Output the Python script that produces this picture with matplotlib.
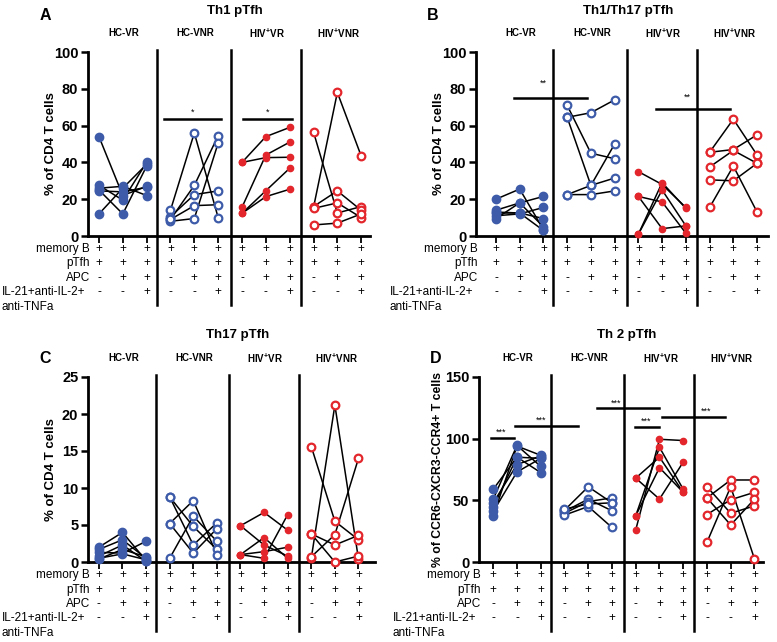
import matplotlib
matplotlib.use('Agg')
import matplotlib.pyplot as plt
import matplotlib.transforms as mtransforms

plt.rcParams['font.family'] = ['Liberation Sans', 'DejaVu Sans']
plt.rcParams['mathtext.fontset'] = 'custom'
plt.rcParams['mathtext.rm'] = 'Liberation Sans:bold'
plt.rcParams['mathtext.default'] = 'rm'

groups = ['HC-VR', 'HC-VNR', 'HIV$^{+}$VR', 'HIV$^{+}$VNR']
rows = ['memory B', 'pTfh', 'APC']
memory_b = ['+', '+', '+']
ptfh = ['+', '+', '+']
apc = ['-', '+', '+']
il21 = ['-', '-', '+']

# one triple per donor: (memB+pTfh, +APC, +APC+IL-21/anti-IL-2/anti-TNFa)
th1_hc_vr = [[54, 22, 27], [27.5, 19.5, 40], [26, 27, 22], [25, 12, 38], [24.5, 24, 26.5], [12, 26, 39]]
th1_hc_vnr = [[14, 56, 10], [9, 27.5, 54.5], [10.5, 22.5, 24.5], [8, 9.5, 50.5], [9, 16.5, 17]]
th1_hiv_vr = [[40, 54, 59], [40, 42.6, 42.8], [15.6, 44, 51], [12.3, 24.6, 36.8], [12.3, 21.4, 25.4]]
th1_hiv_vnr = [[56.5, 12.5, 16], [15.5, 78, 43.5], [16, 24.5, 14], [15, 18, 10], [6, 7, 12]]

th117_hc_vr = [[20, 25.5, 3.5], [14, 18, 21.5], [13, 12.5, 9.5], [11, 12, 15.5], [9.5, 18, 5], [12.5, 12.5, 3]]
th117_hc_vnr = [[71, 45, 42], [64.5, 67, 74], [64.5, 27.5, 50], [22.5, 27.5, 31.5], [22.5, 22.5, 24.5]]
th117_hiv_vr = [[35, 28, 15.5], [21.5, 18.5, 1.5], [21.5, 4, 5.5], [1, 29, 15], [1, 25, 5.5]]
th117_hiv_vnr = [[45.5, 63.5, 44], [45.5, 47, 55], [37.5, 46.5, 39.5], [30.5, 30, 39.5], [15.5, 38, 13]]

th17_hc_vr = [[2, 4, 0.2], [1.7, 3, 0.5], [1.3, 1.2, 2.8], [0.8, 2.3, 0.1], [0.4, 1.7, 0.7], [0.5, 1.1, 0.3]]
th17_hc_vnr = [[8.8, 4.8, 1.7], [8.8, 2.3, 5.3], [5.2, 8.3, 1.0], [0.5, 6.2, 2.8], [5.2, 1.2, 4.5]]
th17_hiv_vr = [[4.9, 6.7, 4.3], [4.9, 2.3, 0.8], [1.0, 3.3, 0.5], [1.0, 1.4, 2.0], [1.0, 0.5, 6.4]]
th17_hiv_vnr = [[15.6, 5.5, 3.0], [0.5, 21.2, 0.4], [3.8, 0, 0.8], [0.7, 3.7, 14.0], [3.8, 2.3, 3.6]]

th2_hc_vr = [[59, 85, 84], [51, 94.5, 77.5], [48, 79, 86], [44.5, 85, 72.5], [41, 73, 84], [37.5, 94, 86.5]]
th2_hc_vnr = [[42, 61, 48], [41, 51, 41.5], [39.5, 49, 52], [38, 45, 28], [43, 47, 48]]
th2_hiv_vr = [[68, 85, 56.5], [68, 51, 81], [37.5, 93, 59], [26, 99.5, 98.5], [37.5, 76.5, 56.5]]
th2_hiv_vnr = [[61, 39.5, 45.5], [52, 66.5, 66.5], [38.5, 50.5, 56.5], [16, 61, 2.5], [52, 30, 51]]

blue = '#3D5BA9'
red = '#E3262B'
styles = [(blue, True, 6), (blue, False, 5.5), (red, True, 4.5), (red, False, 5.5)]

W, H = 777, 642
fig = plt.figure(figsize=(W / 100, H / 100), dpi=100)


def add_axes(left, right, top, bottom):
    return fig.add_axes([left / W, 1 - bottom / H, (right - left) / W, (bottom - top) / H])


def panel(ax, data, ymax, ystep, xlim, title, letter, ylabel, sig, ylsize=9.5, ylx=-31):
    width_px = ax.get_position().width * W
    for g, (series, (col, filled, ms)) in enumerate(zip(data, styles)):
        xs = [3 * g, 3 * g + 1, 3 * g + 2]
        for donor in series:
            ax.plot(xs, donor, color='black', lw=1.1, zorder=2, clip_on=False)
            ax.plot(xs, donor, ls='none', marker='o', ms=ms,
                    mfc=col if filled else 'white', mec=col,
                    mew=1.0 if filled else 1.6, zorder=3, clip_on=False)
    ax.set_xlim(*xlim)
    ax.set_ylim(0, ymax)
    ax.set_yticks(range(0, ymax + 1, ystep))
    ax.set_xticks(range(12))
    ax.set_xticklabels([])
    for s in ['top', 'right']:
        ax.spines[s].set_visible(False)
    for s in ['left', 'bottom']:
        ax.spines[s].set_linewidth(2)
    ax.tick_params(axis='y', width=1.8, length=5, labelsize=10.5, pad=2)
    ax.tick_params(axis='x', width=1.3, length=5)
    for lab in ax.get_yticklabels():
        lab.set_fontweight('bold')
    ax.set_ylabel(ylabel, fontsize=ylsize, fontweight='bold')
    ax.yaxis.set_label_coords(ylx / width_px, 0.5)

    tr = mtransforms.blended_transform_factory(ax.transData, ax.transAxes)
    for xd in [2.42, 5.52, 8.47]:
        ax.plot([xd, xd], [-0.375, 1.01], color='black', lw=1.8, transform=tr, clip_on=False)

    row_y = [-0.072, -0.149, -0.226, -0.305]
    cols = [memory_b, ptfh, apc, il21]
    for ry, vals in zip(row_y, cols):
        for g in range(4):
            for k in range(3):
                ax.text(3 * g + k, ry, vals[k], transform=tr, ha='center', va='center', fontsize=8.5)
    for ry, name in zip(row_y[:3], rows):
        ax.text(2 / width_px, ry, name, transform=ax.transAxes, ha='right', va='center', fontsize=8.5)
    ax.text(-86 / width_px, row_y[3], 'IL-21+anti-IL-2+', transform=ax.transAxes,
            ha='left', va='center', fontsize=8.5)
    ax.text(-86 / width_px, -0.386, 'anti-TNFa', transform=ax.transAxes,
            ha='left', va='center', fontsize=8.5)

    for g, name in enumerate(groups):
        ax.text(3 * g + 1.05, 1.103, name, transform=tr, ha='center', va='center',
                fontsize=7, fontweight='bold')
    ax.text(0.52, 1.225, title, transform=ax.transAxes, ha='center', va='center',
            fontsize=9.5, fontweight='bold')
    ax.text(-43 / width_px, letter[1], letter[0], transform=ax.transAxes, ha='center', va='center',
            fontsize=11.5, fontweight='bold')

    for x0, x1, y, stars, sx, sy in sig:
        ax.plot([x0, x1], [y, y], color='black', lw=1.8, clip_on=False, zorder=4)
        ax.text(sx, sy, stars, ha='center', va='center', fontsize=6.5)


ax_a = add_axes(88, 370, 52, 236)
panel(ax_a, [th1_hc_vr, th1_hc_vnr, th1_hiv_vr, th1_hiv_vnr], 100, 20, (-0.46, 11.37),
      'Th1 pTfh', ('A', 1.2), '% of CD4 T cells',
      [(2.72, 5.13, 63.4, '*', 3.92, 67), (6.06, 8.09, 63.4, '*', 7.07, 67)])

ax_b = add_axes(476, 768, 52, 236)
panel(ax_b, [th117_hc_vr, th117_hc_vnr, th117_hiv_vr, th117_hiv_vnr], 100, 20, (-0.84, 11.46),
      'Th1/Th17 pTfh', ('B', 1.2), '% of CD4 T cells',
      [(0.75, 3.83, 75, '**', 2.0, 83), (6.75, 9.87, 69.2, '**', 8.05, 75.5)])

ax_c = add_axes(88, 375, 377, 562)
panel(ax_c, [th17_hc_vr, th17_hc_vnr, th17_hiv_vr, th17_hiv_vnr], 25, 5, (-0.46, 11.7),
      'Th17 pTfh', ('C', 1.1), '% of CD4 T cells', [])

ax_d = add_axes(479, 763, 377, 562)
panel(ax_d, [th2_hc_vr, th2_hc_vnr, th2_hiv_vr, th2_hiv_vnr], 150, 50, (-0.6, 11.36),
      'Th 2 pTfh', ('D', 1.1), '% of CCR6-CXCR3-CCR4+ T cells',
      [(-0.11, 0.88, 100.8, '***', 0.35, 105),
       (0.91, 3.58, 110.5, '***', 2.03, 115),
       (4.35, 6.97, 124.9, '***', 5.19, 128.5),
       (5.96, 6.97, 109.5, '***', 6.45, 114.5),
       (7.11, 9.78, 117.3, '***', 8.98, 122)], ylsize=8.8, ylx=-35)

fig.savefig('out.png', dpi=100)
